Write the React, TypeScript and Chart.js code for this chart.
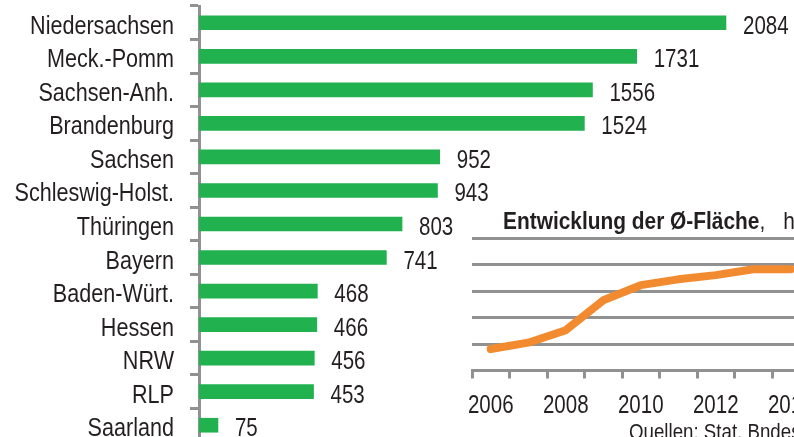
import React, { useEffect, useRef } from "react";
import { Chart, registerables } from "chart.js";

Chart.register(...registerables);

// ---------- data ----------
const states = [
  "Niedersachsen",
  "Meck.-Pomm",
  "Sachsen-Anh.",
  "Brandenburg",
  "Sachsen",
  "Schleswig-Holst.",
  "Thüringen",
  "Bayern",
  "Baden-Würt.",
  "Hessen",
  "NRW",
  "RLP",
  "Saarland",
];
const stateValues = [2084, 1731, 1556, 1524, 952, 943, 803, 741, 468, 466, 456, 453, 75];

const years = ["2006", "2007", "2008", "2009", "2010", "2011", "2012", "2013", "2014"];
const yearValues = [81, 105, 152, 265, 322, 344, 360, 382, 382];
const yearTickLabels = ["2006", "2008", "2010", "2012", "2014"];

const insetTitleBold = "Entwicklung der Ø-Fläche";
const insetTitleRest = ", ha";
const sourceText = "Quellen: Stat. Bndesamt";

// ---------- styles ----------
const FONT = "'Liberation Sans', Arial, sans-serif";
const NARROW = 0.82;
const TEXT = "#231f20";
const GREEN = "#22b14f";
const ORANGE = "#f28b30";
const GRAY = "#919191";

function narrowText(
  ctx: CanvasRenderingContext2D,
  text: string,
  x: number,
  y: number,
  size: number,
  align: CanvasTextAlign,
  sx: number = NARROW
) {
  ctx.save();
  ctx.translate(x, y);
  ctx.scale(sx, 1);
  ctx.font = `${size}px ${FONT}`;
  ctx.fillStyle = TEXT;
  ctx.textAlign = align;
  ctx.textBaseline = "alphabetic";
  ctx.fillText(text, 0, 0);
  ctx.restore();
}

const barLabels = {
  id: "barLabels",
  afterDatasetsDraw(chart: any) {
    const ctx = chart.ctx;
    const yScale = chart.scales.y;
    states.forEach((s, i) => {
      narrowText(ctx, s, 174, yScale.getPixelForTick(i) + 11, 26, "right", 0.83);
    });
    const meta = chart.getDatasetMeta(0);
    meta.data.forEach((bar: any, i: number) => {
      narrowText(ctx, String(stateValues[i]), bar.x + 17, bar.y + 11, 25, "left");
    });
  },
};

const yearLabels = {
  id: "yearLabels",
  afterDraw(chart: any) {
    const ctx = chart.ctx;
    const xScale = chart.scales.x;
    years.forEach((y, i) => {
      if (!yearTickLabels.includes(y)) return;
      narrowText(ctx, y, xScale.getPixelForTick(i), xScale.top + 42.5, 25, "center");
    });
  },
};

export default function App() {
  const barRef = useRef<HTMLCanvasElement>(null);
  const lineRef = useRef<HTMLCanvasElement>(null);

  useEffect(() => {
    const bar = new Chart(barRef.current!, {
      type: "bar",
      data: {
        labels: states,
        datasets: [
          {
            data: stateValues,
            backgroundColor: GREEN,
            borderWidth: 0,
            barThickness: 14,
          },
        ],
      },
      options: {
        indexAxis: "y",
        responsive: false,
        animation: false,
        layout: { padding: { top: 6, bottom: 18, left: 0, right: 0 } },
        plugins: { legend: { display: false }, tooltip: { enabled: false } },
        scales: {
          x: { display: false, min: 0, max: 2353 },
          y: {
            afterFit: (s: any) => {
              s.width = 199;
              s.paddingTop = 0;
              s.paddingBottom = 0;
            },
            grid: {
              offset: true,
              drawOnChartArea: false,
              drawTicks: true,
              tickLength: 9,
              color: GRAY,
              lineWidth: 3,
            },
            border: { color: GRAY, width: 3 },
            ticks: { display: false, autoSkip: false },
          },
        },
      } as any,
      plugins: [barLabels],
    });

    const line = new Chart(lineRef.current!, {
      type: "line",
      data: {
        labels: years,
        datasets: [
          {
            data: yearValues,
            borderColor: ORANGE,
            borderWidth: 8,
            pointRadius: 0,
            tension: 0,
            fill: false,
            borderCapStyle: "round",
            borderJoinStyle: "round",
          },
        ],
      },
      options: {
        responsive: false,
        animation: false,
        layout: { padding: { top: 38, left: 32, right: 10.5, bottom: 0 } },
        plugins: { legend: { display: false }, tooltip: { enabled: false } },
        scales: {
          x: {
            offset: true,
            afterFit: (s: any) => {
              s.height = 66.5;
            },
            grid: {
              offset: true,
              drawOnChartArea: false,
              drawTicks: true,
              tickLength: 8,
              color: GRAY,
              lineWidth: 3,
            },
            border: { color: GRAY, width: 3 },
            ticks: { display: false, autoSkip: false, maxRotation: 0 },
          },
          y: {
            min: 0,
            max: 500,
            afterFit: (s: any) => {
              s.width = 0;
            },
            ticks: { display: false, stepSize: 100 },
            grid: { drawTicks: false, color: GRAY, lineWidth: 3 },
            border: { display: false },
          },
        },
      } as any,
      plugins: [yearLabels],
    });

    return () => {
      bar.destroy();
      line.destroy();
    };
  }, []);

  return (
    <div
      style={{
        position: "fixed",
        left: 0,
        top: 0,
        width: 794,
        height: 437,
        overflow: "hidden",
        background: "#ffffff",
      }}
    >
      <canvas
        ref={barRef}
        width={794}
        height={460}
        style={{ position: "absolute", left: 0, top: 0, width: 794, height: 460 }}
      />
      <canvas
        ref={lineRef}
        width={380}
        height={237}
        style={{ position: "absolute", left: 440, top: 200, width: 380, height: 237 }}
      />
      <div
        style={{
          position: "absolute",
          left: 502.5,
          top: 208.7,
          fontFamily: FONT,
          fontSize: 24,
          lineHeight: 1,
          fontWeight: "bold",
          color: TEXT,
          whiteSpace: "nowrap",
          transform: "scaleX(0.87)",
          transformOrigin: "left top",
        }}
      >
        {insetTitleBold}
        <span style={{ fontWeight: "normal", wordSpacing: 14 }}>{insetTitleRest}</span>
      </div>
      <div
        style={{
          position: "absolute",
          left: 629,
          top: 421,
          fontFamily: FONT,
          fontSize: 22,
          lineHeight: 1,
          color: TEXT,
          whiteSpace: "nowrap",
          transform: "scaleX(0.85)",
          transformOrigin: "left top",
        }}
      >
        {sourceText}
      </div>
    </div>
  );
}
